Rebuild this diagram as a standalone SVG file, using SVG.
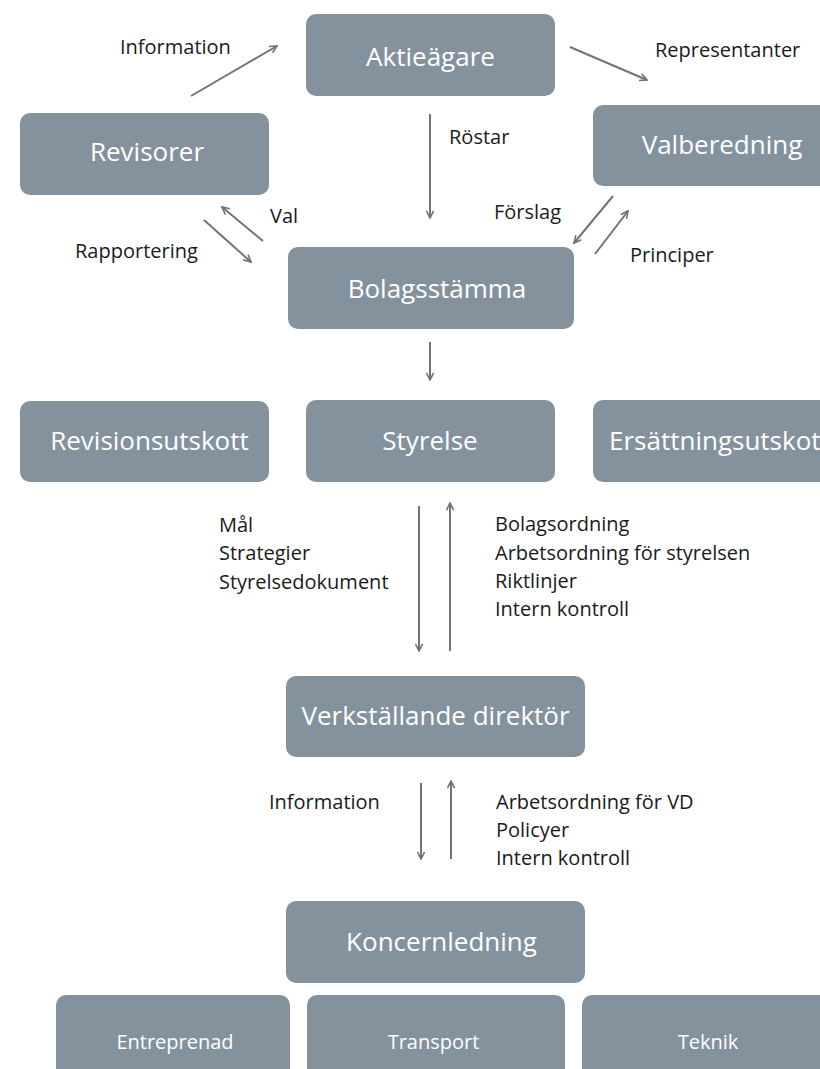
<svg xmlns="http://www.w3.org/2000/svg" width="820" height="1069" viewBox="0 0 820 1069">
<defs>
<style>
.box{fill:#84929e}
.nt{font-family:"Open Sans","Noto Sans","Liberation Sans",sans-serif;font-size:26px;fill:#ffffff;text-anchor:middle}
.st{font-family:"Open Sans","Noto Sans","Liberation Sans",sans-serif;font-size:20px;fill:#ffffff;text-anchor:middle}
.lb{font-family:"Open Sans","Noto Sans","Liberation Sans",sans-serif;font-size:20px;fill:#1a1a1a}
.cn{stroke:#737373;stroke-width:2;fill:none;marker-end:url(#ah)}
</style>
<marker id="ah" viewBox="0 0 10 10" refX="9" refY="5" markerWidth="9" markerHeight="9" markerUnits="userSpaceOnUse" orient="auto">
<path d="M1,1 L9,5 L1,9" fill="none" stroke="#737373" stroke-width="1.8"/>
</marker>
</defs>
<rect width="820" height="1069" fill="#ffffff"/>
<g id="connectors">
<line class="cn" x1="191" y1="96" x2="277" y2="46"/>
<line class="cn" x1="570" y1="47" x2="647" y2="80"/>
<line class="cn" x1="430" y1="114" x2="430" y2="218"/>
<line class="cn" x1="263" y1="241" x2="222" y2="207"/>
<line class="cn" x1="204" y1="220" x2="251" y2="262"/>
<line class="cn" x1="613" y1="196" x2="574" y2="243"/>
<line class="cn" x1="595" y1="254" x2="628" y2="211"/>
<line class="cn" x1="430" y1="342" x2="430" y2="380"/>
<line class="cn" x1="419" y1="506" x2="419" y2="651"/>
<line class="cn" x1="450" y1="651" x2="450" y2="503"/>
<line class="cn" x1="421" y1="783" x2="421" y2="859"/>
<line class="cn" x1="451" y1="859" x2="451" y2="781"/>
</g>
<g id="labels">
<text class="lb" x="120" y="54">Information</text>
<text class="lb" x="655" y="57">Representanter</text>
<text class="lb" x="449" y="144">Röstar</text>
<text class="lb" x="270" y="223">Val</text>
<text class="lb" x="75" y="258">Rapportering</text>
<text class="lb" x="494" y="219">Förslag</text>
<text class="lb" x="630" y="262">Principer</text>
<text class="lb" x="219" y="532">Mål</text>
<text class="lb" x="219" y="560">Strategier</text>
<text class="lb" x="219" y="589">Styrelsedokument</text>
<text class="lb" x="495" y="531">Bolagsordning</text>
<text class="lb" x="495" y="560">Arbetsordning för styrelsen</text>
<text class="lb" x="495" y="588">Riktlinjer</text>
<text class="lb" x="495" y="616">Intern kontroll</text>
<text class="lb" x="269" y="809">Information</text>
<text class="lb" x="496" y="809">Arbetsordning för VD</text>
<text class="lb" x="496" y="837">Policyer</text>
<text class="lb" x="496" y="865">Intern kontroll</text>
</g>
<g id="aktieagare"><rect class="box" x="306" y="14" width="249" height="82" rx="10"/><text class="nt" x="430.5" y="66">Aktieägare</text></g>
<g id="revisorer"><rect class="box" x="20" y="113" width="249" height="82" rx="10"/><text class="nt" x="147" y="161">Revisorer</text></g>
<g id="valberedning"><rect class="box" x="593" y="105" width="249" height="81" rx="10"/><text class="nt" x="722" y="154">Valberedning</text></g>
<g id="bolagsstamma"><rect class="box" x="288" y="247" width="286" height="82" rx="10"/><text class="nt" x="437" y="298">Bolagsstämma</text></g>
<g id="revisionsutskott"><rect class="box" x="20" y="401" width="249" height="81" rx="10"/><text class="nt" x="149.5" y="450">Revisionsutskott</text></g>
<g id="styrelse"><rect class="box" x="306" y="400" width="249" height="82" rx="10"/><text class="nt" x="430" y="450">Styrelse</text></g>
<g id="ersattningsutskott"><rect class="box" x="593" y="400" width="249" height="82" rx="10"/><text class="nt" x="609" y="450" style="text-anchor:start">Ersättningsutskott</text></g>
<g id="vd"><rect class="box" x="286" y="676" width="299" height="81" rx="10"/><text class="nt" x="435.5" y="725">Verkställande direktör</text></g>
<g id="koncernledning"><rect class="box" x="286" y="901" width="299" height="82" rx="10"/><text class="nt" x="441.5" y="951">Koncernledning</text></g>
<g id="entreprenad"><rect class="box" x="56" y="995" width="234" height="100" rx="10"/><text class="st" x="175" y="1049">Entreprenad</text></g>
<g id="transport"><rect class="box" x="307" y="995" width="258" height="100" rx="10"/><text class="st" x="433.5" y="1049">Transport</text></g>
<g id="teknik"><rect class="box" x="582" y="995" width="260" height="100" rx="10"/><text class="st" x="708" y="1049">Teknik</text></g>
</svg>
